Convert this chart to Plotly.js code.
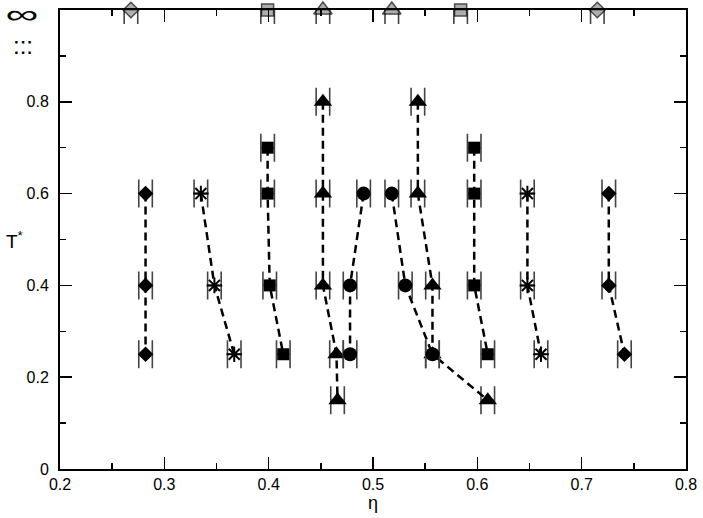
<!DOCTYPE html>
<html><head><meta charset="utf-8">
<script src="https://cdn.plot.ly/plotly-3.0.1.min.js"></script>
<style>html,body{margin:0;padding:0;background:#fff}
.inf-glyph{transform-box:fill-box;transform-origin:center;transform:scale(2.1,1.15);}</style>
</head><body><div id="plot" style="width:703px;height:518px"></div>
<script>
// Series (eta, T*)
const diamondL_eta = [0.282, 0.282, 0.282];
const diamondL_T   = [0.6, 0.4, 0.25];
const starL_eta = [0.335, 0.348, 0.367];
const starL_T   = [0.6, 0.4, 0.25];
const squareL_eta = [0.399, 0.399, 0.401, 0.414];
const squareL_T   = [0.7, 0.6, 0.4, 0.25];
const triL_eta = [0.452, 0.452, 0.452, 0.465, 0.466];
const triL_T   = [0.8, 0.6, 0.4, 0.25, 0.15];
const circL_eta = [0.491, 0.478, 0.478];
const circL_T   = [0.6, 0.4, 0.25];
const circR_eta = [0.518, 0.531, 0.557];
const circR_T   = [0.6, 0.4, 0.25];
const triR_eta = [0.543, 0.543, 0.557, 0.557, 0.610];
const triR_T   = [0.8, 0.6, 0.4, 0.25, 0.15];
const squareR_eta = [0.597, 0.597, 0.597, 0.610];
const squareR_T   = [0.7, 0.6, 0.4, 0.25];
const starR_eta = [0.648, 0.648, 0.661];
const starR_T   = [0.6, 0.4, 0.25];
const diamondR_eta = [0.726, 0.726, 0.741];
const diamondR_T   = [0.6, 0.4, 0.25];
// Infinite-temperature points (top)
const inf_eta = [0.268, 0.399, 0.452, 0.518, 0.584, 0.715];
const inf_T   = [1.0, 1.0, 1.0, 1.0, 1.0, 1.0];
const inf_sym = ['diamond', 'square', 'triangle-up', 'triangle-up', 'square', 'diamond'];
const inf_size = [12, 12, 16, 16, 12, 12];
const etaErr = 0.0065;

const yTickVals = [0, 0.2, 0.4, 0.6, 0.8];
const yTickText = ['0', '0.2', '0.4', '0.6', '0.8'];
const xTickVals = [0.2, 0.3, 0.4, 0.5, 0.6, 0.7, 0.8];
const xTickText = ['0.2', '0.3', '0.4', '0.5', '0.6', '0.7', '0.8'];

function err(){ return {type:'constant', value: etaErr, color:'#444', thickness:1.6, width:14}; }
function series(x, y, sym, size){
  const isStar = sym.indexOf('asterisk') === 0;
  return {
    x: x, y: y, type:'scatter', mode:'lines+markers',
    line:{color:'#000', width:2.5, dash:'8px,5px'},
    marker:{symbol:sym, size:size, color:'#000', line:{color:'#000', width: isStar ? 2 : 0}},
    error_x: err(), showlegend:false, cliponaxis:false
  };
}
const traces = [
  series(diamondL_eta, diamondL_T, 'diamond', 12),
  series(starL_eta, starL_T, 'asterisk-open', 13),
  series(squareL_eta, squareL_T, 'square', 12),
  series(triL_eta, triL_T, 'triangle-up', 16),
  series(circL_eta, circL_T, 'circle', 14),
  series(triR_eta, triR_T, 'triangle-up', 16),
  series(circR_eta, circR_T, 'circle', 14),
  series(squareR_eta, squareR_T, 'square', 12),
  series(starR_eta, starR_T, 'asterisk-open', 13),
  series(diamondR_eta, diamondR_T, 'diamond', 12),
  {x: inf_eta, y: inf_T, type:'scatter', mode:'markers', marker:{size:1, opacity:0},
   error_x: err(), showlegend:false, cliponaxis:true},
  {x: inf_eta, y: inf_T, type:'scatter', mode:'markers', showlegend:false, cliponaxis:false,
   marker:{symbol: inf_sym, size: inf_size, color:'#8c8c8c', line:{color:'#000', width:1.5}}}
];

const font = {family:'"Liberation Sans", Arial, sans-serif', size:16, color:'#000'};
const layout = {
  width:703, height:518,
  margin:{l:60, r:17, t:10, b:49},
  paper_bgcolor:'#fff', plot_bgcolor:'#fff',
  font: font,
  xaxis:{range:[0.2,0.8], tickvals:xTickVals, ticktext:xTickText, ticks:'inside', ticklen:12, tickwidth:1.5,
    tickcolor:'#000', showline:true, linewidth:2, linecolor:'#000', mirror:'ticks', showgrid:false, zeroline:false,
    minor:{dtick:0.05, tick0:0.2, ticks:'inside', ticklen:6, tickwidth:1.5, tickcolor:'#000', showgrid:false},
    tickfont:font, title:{text:'η', font:{family:font.family, size:18, color:'#000'}, standoff:4}},
  yaxis:{range:[0,1], tickvals:yTickVals, ticktext:yTickText, ticks:'inside', ticklen:12, tickwidth:1.5,
    tickcolor:'#000', showline:true, linewidth:2, linecolor:'#000', mirror:'ticks', showgrid:false, zeroline:false,
    minor:{dtick:0.1, tick0:0.1, ticks:'inside', ticklen:6, tickwidth:1.5, tickcolor:'#000', showgrid:false},
    tickfont:font, ticklabelstandoff:6},
  annotations:[
    {text:'T<sup>*</sup>', xref:'paper', yref:'paper', x:-0.072, y:0.5, showarrow:false,
     font:{family:font.family, size:19, color:'#000'}, xanchor:'center', yanchor:'middle'},
    {text:'∞', xref:'paper', yref:'paper', x:-0.061, y:1.0, yshift:10, showarrow:false,
     font:{family:'"Liberation Sans", sans-serif', size:22, color:'#000'}, xanchor:'center', yanchor:'top'},
    {text:':::', xref:'paper', yref:'y', x:-0.059, y:0.923, showarrow:false,
     font:{family:font.family, size:24, color:'#000'}, xanchor:'center', yanchor:'middle'}
  ]
};
Plotly.newPlot('plot', traces, layout, {displayModeBar:false, staticPlot:true}).then(function(){
  document.querySelectorAll('.annotation-text').forEach(function(t){
    if (t.textContent === '∞') t.classList.add('inf-glyph');
  });
});
</script></body></html>
